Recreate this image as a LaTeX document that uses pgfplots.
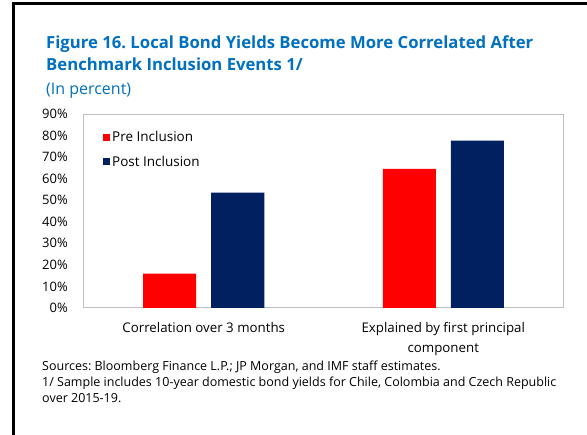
\documentclass[border=0pt]{standalone}
\usepackage{pgfplots}
\pgfplotsset{compat=1.18}
\usepackage{fontspec}
\setmainfont{Open Sans}
\frenchspacing
\definecolor{imfblue}{RGB}{0,112,192}
\definecolor{prered}{RGB}{255,0,0}
\definecolor{postnavy}{RGB}{0,32,96}
\definecolor{axgrey}{RGB}{191,191,191}
\begin{document}
\begin{tikzpicture}[x=1pt,y=1pt]
\useasboundingbox (0,0) rectangle (587,-435);
\fill[white] (0,0) rectangle (587,-435);
\fill[black] (12,-2) rectangle (587,-5);
\fill[black] (12,-2) rectangle (15,-435);
\node[anchor=base west, inner sep=0pt, text=imfblue, font=\fontsize{16.7}{22}\selectfont\bfseries] at (46,-49) {Figure 16. Local Bond Yields Become More Correlated After};
\node[anchor=base west, inner sep=0pt, text=imfblue, font=\fontsize{16.7}{22}\selectfont\bfseries] at (46,-71) {Benchmark Inclusion Events 1/};
\node[anchor=base west, inner sep=0pt, text=imfblue, font=\fontsize{16}{20}\selectfont] at (46,-95) {(In percent)};
\begin{axis}[
  at={(84pt,-308pt)}, anchor=south west,
  scale only axis, width=479pt, height=194pt,
  xmin=-0.5, xmax=1.5, ymin=0, ymax=90,
  ybar=15pt, bar width=53pt,
  axis line style={axgrey, line width=1pt},
  major tick length=0pt,
  xtick={0,1},
  xticklabels={Correlation over 3 months, {Explained by first principal\\component}},
  xticklabel style={align=center, inner sep=0pt, yshift=-14pt, font=\fontsize{13.3}{20}\selectfont},
  ytick={0,10,...,90},
  yticklabel={\pgfmathprintnumber{\tick}\%},
  yticklabel style={inner sep=0pt, xshift=-16pt, font=\fontsize{13}{15}\selectfont},
  /pgf/number format/assume math mode=true,
  legend style={at={(0,1)}, anchor=north west, xshift=19pt, yshift=-15pt, draw=none, fill=none,
    font=\fontsize{13.5}{15}\selectfont, row sep=9pt, inner sep=0pt,
    nodes={inner sep=2pt}},
  legend cell align=left,
  legend image code/.code={\fill[#1] (0pt,-3.5pt) rectangle (7pt,3.5pt);},
]
\addplot[fill=prered, draw=none] coordinates {(0,16) (1,64.6)};
\addplot[fill=postnavy, draw=none] coordinates {(0,53.5) (1,77.6)};
\legend{Pre Inclusion, Post Inclusion}
\end{axis}
\node[anchor=base west, inner sep=0pt, align=left, font=\fontsize{12.5}{16}\selectfont] at (42,-403) {Sources: Bloomberg Finance L.P.; JP Morgan, and IMF staff estimates.\\1/ Sample includes 10-year domestic bond yields for Chile, Colombia and Czech Republic\\over 2015-19.};
\end{tikzpicture}
\end{document}
